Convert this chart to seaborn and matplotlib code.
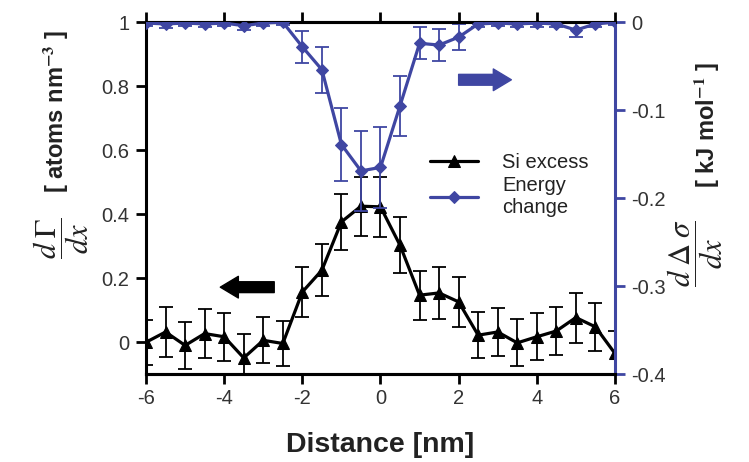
import numpy as np
import pandas as pd
import matplotlib
matplotlib.use("Agg")
import matplotlib.pyplot as plt
import seaborn as sns

# ---- data ----
distance = [-6.0, -5.5, -5.0, -4.5, -4.0, -3.5, -3.0, -2.5, -2.0, -1.5, -1.0, -0.5,
            0.0, 0.5, 1.0, 1.5, 2.0, 2.5, 3.0, 3.5, 4.0, 4.5, 5.0, 5.5, 6.0]
si_excess = [0.0, 0.032, -0.01, 0.027, 0.017, -0.049, 0.006, -0.004, 0.157, 0.225, 0.376, 0.425,
             0.423, 0.303, 0.147, 0.154, 0.126, 0.022, 0.032, -0.002, 0.017, 0.035, 0.077, 0.048, -0.035]
si_err = [0.07, 0.077, 0.073, 0.076, 0.075, 0.075, 0.072, 0.07, 0.078, 0.082, 0.088, 0.092,
          0.094, 0.087, 0.077, 0.08, 0.078, 0.072, 0.075, 0.073, 0.074, 0.076, 0.078, 0.075, 0.07]
energy = [-0.001, -0.002, -0.001, -0.002, -0.001, -0.004, -0.001, 0.0, -0.028, -0.054, -0.139, -0.169,
          -0.165, -0.095, -0.024, -0.026, -0.017, -0.002, -0.001, -0.002, -0.001, -0.002, -0.009, -0.002, 0.0]
energy_err = [0.003, 0.005, 0.003, 0.004, 0.003, 0.005, 0.003, 0.003, 0.018, 0.026, 0.042, 0.045,
              0.046, 0.034, 0.018, 0.018, 0.015, 0.003, 0.003, 0.003, 0.004, 0.004, 0.008, 0.004, 0.003]
x_ticks = [-6, -4, -2, 0, 2, 4, 6]
left_ticks = [0, 0.2, 0.4, 0.6, 0.8, 1]
right_ticks = [-0.4, -0.3, -0.2, -0.1, 0]

df = pd.DataFrame({"x": distance, "si": si_excess, "si_err": si_err,
                   "en": energy, "en_err": energy_err})

sns.set_theme(style="white")
plt.rcParams["font.family"] = ["Liberation Sans", "DejaVu Sans"]
plt.rcParams["mathtext.fontset"] = "stix"

BLUE = "#3f46a2"
TICKC = "#333333"

fig = plt.figure(figsize=(7.49, 4.62), dpi=100)
ax = fig.add_axes([0.195, 0.190, 0.626, 0.762])
ax2 = ax.twinx()

# black series (left axis)
ax.errorbar(df["x"], df["si"], yerr=df["si_err"], fmt="none", ecolor="black",
            elinewidth=1.3, capsize=5, capthick=1.3, zorder=2)
sns.lineplot(data=df, x="x", y="si", ax=ax, color="black", lw=2.3, marker="^",
             markersize=9, markeredgecolor="black", label="Si excess", legend=False, zorder=3)

# blue series (right axis)
ax2.errorbar(df["x"], df["en"], yerr=df["en_err"], fmt="none", ecolor=BLUE,
             elinewidth=1.3, capsize=5, capthick=1.3, zorder=2)
sns.lineplot(data=df, x="x", y="en", ax=ax2, color=BLUE, lw=2.3, marker="D",
             markersize=6.5, markeredgecolor=BLUE, label="Energy\nchange", legend=False, zorder=3)

ax.set_xlim(-6, 6)
ax.set_ylim(-0.1, 1)
ax2.set_ylim(-0.4, 0)
ax.set_xticks(x_ticks)
ax.set_xticklabels([str(t) for t in x_ticks])
ax.set_yticks(left_ticks)
ax.set_yticklabels(["0", "0.2", "0.4", "0.6", "0.8", "1"])
ax2.set_yticks(right_ticks)
ax2.set_yticklabels(["-0.4", "-0.3", "-0.2", "-0.1", "0"])
ax.set_xlabel("")
ax.set_ylabel("")
ax2.set_ylabel("")

for a in (ax, ax2):
    for s in a.spines.values():
        s.set_linewidth(2.2)
        s.set_color("black")
ax2.spines["right"].set_color(BLUE)
ax.spines["right"].set_visible(False)
ax2.spines["left"].set_visible(False)

ax.tick_params(axis="x", which="both", direction="out", length=7, width=2, color="black",
               top=True, bottom=True, labelsize=14.5, labelcolor=TICKC, pad=4)
ax.tick_params(axis="y", direction="out", length=7, width=2, color="black",
               left=True, right=False, labelsize=14.5, labelcolor=TICKC, pad=5)
ax2.tick_params(axis="y", direction="out", length=7, width=2, color=BLUE,
                right=True, left=False, labelsize=14.5, labelcolor=TICKC, pad=5)

# arrows
ax.annotate("", xy=(-4.1, 0.172), xytext=(-2.72, 0.172),
            arrowprops=dict(arrowstyle="simple,head_length=1.0,head_width=1.2,tail_width=0.6",
                            color="black", mutation_scale=13, shrinkA=0, shrinkB=0))
ax.annotate("", xy=(3.35, 0.82), xytext=(2.0, 0.82),
            arrowprops=dict(arrowstyle="simple,head_length=1.0,head_width=1.2,tail_width=0.6",
                            color=BLUE, mutation_scale=13, shrinkA=0, shrinkB=0))

# legend
h1, l1 = ax.get_legend_handles_labels()
h2, l2 = ax2.get_legend_handles_labels()
leg = ax2.legend(h1 + h2, ["Si excess", "Energy\nchange"], loc="upper left",
                 bbox_to_anchor=(0.560, 0.690), bbox_transform=fig.transFigure,
                 frameon=False, fontsize=14.5, handlelength=2.4, handletextpad=1.2,
                 borderpad=0, labelspacing=0.2)
for t in leg.get_texts():
    t.set_color("#222222")

# axis labels
fig.text(0.082, 0.485, r"$\dfrac{d\;\Gamma}{dx}$", rotation=90, ha="center", va="center",
         fontsize=22, color="#222222")
fig.text(0.074, 0.758, r"[ atoms nm$^{\mathbf{-3}}$ ]", rotation=90, ha="center", va="center",
         fontsize=17, fontweight="bold", color="#222222")
fig.text(0.928, 0.452, r"$\dfrac{d\;\Delta\;\sigma}{dx}$", rotation=90, ha="center", va="center",
         fontsize=22, color="#222222")
fig.text(0.943, 0.729, r"[ kJ mol$^{\mathbf{-1}}$ ]", rotation=90, ha="center", va="center",
         fontsize=17, fontweight="bold", color="#222222")
fig.text(0.507, 0.037, "Distance [nm]", ha="center", va="center",
         fontsize=20.5, fontweight="bold", color="#222222")

fig.savefig("out.png", dpi=100)
